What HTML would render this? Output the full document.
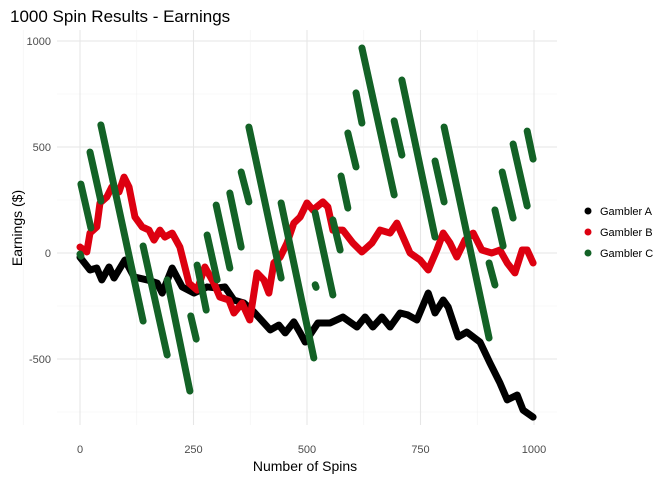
<!DOCTYPE html>
<html><head><meta charset="utf-8"><style>
body{margin:0;background:#fff;font-family:"Liberation Sans",sans-serif}
svg text{font-family:"Liberation Sans",sans-serif}
</style></head><body>
<svg id="chart" width="672" height="480">
<text x="10" y="22" font-size="17" fill="#000">1000 Spin Results - Earnings</text>
<g id="grid"></g><g id="series"></g><g id="axes"></g>
<text x="305" y="471" font-size="14" text-anchor="middle">Number of Spins</text>
<text transform="translate(22,228) rotate(-90)" font-size="14" text-anchor="middle">Earnings ($)</text>
<g id="legend"></g>
</svg>
<script>
const aSpins=[0,22,37,48,64,75,99,119,148,170,181,203,225,251,280,302,319,339,361,383,405,419,438,452,471,485,496,524,551,579,610,628,645,665,683,705,722,742,767,782,800,811,833,852,881,903,925,941,963,976,998];
const aVals=[-20,-80,-71,-127,-66,-118,-33,-113,-127,-142,-189,-71,-160,-189,-160,-165,-160,-222,-236,-278,-330,-363,-340,-377,-325,-377,-420,-330,-330,-302,-349,-302,-349,-302,-349,-283,-292,-316,-189,-283,-222,-255,-396,-373,-420,-519,-613,-693,-670,-741,-774];
const bSpins=[0,15,22,37,44,59,70,86,97,108,121,137,152,163,176,187,203,220,240,258,275,295,308,328,339,357,374,390,405,416,427,441,456,471,485,500,513,535,546,557,579,601,621,643,661,683,698,727,749,767,786,800,815,830,848,866,885,907,925,941,958,974,985,998];
const bVals=[28,5,94,123,236,264,311,288,358,311,170,123,108,61,108,75,94,28,-142,-175,-66,-142,-208,-222,-283,-236,-316,-94,-127,-189,-47,-19,47,141,170,236,203,241,217,108,108,47,5,47,108,94,141,0,-33,-80,14,94,47,-19,61,94,14,0,14,-47,-94,14,14,-47];
const cStartSpin=[0,2,22,46,139,192,244,258,280,300,330,355,372,443,518,518,557,575,590,608,621,692,709,782,802,901,914,930,954,985];
const cStartVal=[-5,325,476,604,33,-127,-297,-57,85,226,283,382,594,236,-150,189,156,363,566,755,967,623,816,434,594,-47,203,382,514,575];
const cEndSpin=[2,24,46,139,192,242,256,278,302,330,355,372,443,515,520,557,573,590,608,621,692,709,782,802,901,914,932,954,985,998];
const cEndVal=[-15,118,245,-321,-481,-651,-406,-269,-127,-71,28,241,-118,-495,-162,-198,14,212,406,613,274,462,75,241,-401,-151,33,165,222,443];
const xTicks=[0,250,500,750,1000];
const yTicks=[-500,0,500,1000];
const NS='http://www.w3.org/2000/svg';
const X=v=>80+v*0.454, Y=v=>253-v*0.212;
const L=57,R=557,T=30,B=425;
function mk(t,a,p){const e=document.createElementNS(NS,t);for(const k in a)e.setAttribute(k,a[k]);p.appendChild(e);return e;}
const grid=document.getElementById('grid'),axes=document.getElementById('axes'),ser=document.getElementById('series'),leg=document.getElementById('legend');
for(let v=-750;v<=1000;v+=250){const major=v%500===0;const g=mk('line',{x1:L,x2:R,y1:Y(v),y2:Y(v),stroke:major?'#e6e6e6':'#f2f2f2','stroke-width':major?1.1:0.6},grid);

}
for(let v=-125;v<=1000;v+=125){const major=v%250===0;const g=mk('line',{y1:T,y2:B,x1:X(v),x2:X(v),stroke:major?'#e6e6e6':'#f2f2f2','stroke-width':major?1.1:0.6},grid);

}
xTicks.forEach(v=>{const t=mk('text',{x:X(v),y:453,'font-size':11,fill:'#4d4d4d','text-anchor':'middle'},axes);t.textContent=v;

});
yTicks.forEach(v=>{const t=mk('text',{x:51,y:Y(v)+4,'font-size':11,fill:'#4d4d4d','text-anchor':'end'},axes);t.textContent=v;

});
for(let i=0;i<cStartSpin.length;i++){const l=mk('line',{x1:X(cStartSpin[i]),y1:Y(cStartVal[i]),x2:X(cEndSpin[i]),y2:Y(cEndVal[i]),stroke:'#136226','stroke-width':7,'stroke-linecap':'round'},ser);

}
function path(xs,ys,col,name){const p=mk('polyline',{points:xs.map((s,i)=>X(s)+','+Y(ys[i])).join(' '),fill:'none',stroke:col,'stroke-width':7,'stroke-linejoin':'round','stroke-linecap':'round'},ser);

}
path(aSpins,aVals,'#000000','gambler-a-line');
path(bSpins,bVals,'#dd0010','gambler-b-line');
ser.insertBefore(ser.lastChild,ser.firstChild);ser.insertBefore(ser.lastChild,ser.firstChild);
const names=['Gambler A','Gambler B','Gambler C'],cols=['#000000','#dd0010','#136226'];
names.forEach((n,i)=>{const y=211+i*21;const c=mk('circle',{cx:588,cy:y,r:3.5,fill:cols[i]},leg);


const t=mk('text',{x:600,y:y+4,'font-size':11,fill:'#000'},leg);t.textContent=n;

});
</script>
</body></html>
